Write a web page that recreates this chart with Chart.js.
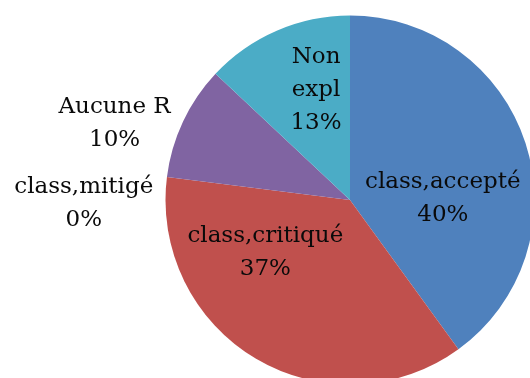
<!DOCTYPE html>
<html>
<head>
<meta charset="utf-8">
<script src="https://cdn.jsdelivr.net/npm/chart.js@4.4.1/dist/chart.umd.min.js"></script>
<style>
  html, body { margin: 0; padding: 0; background: #fff; overflow: hidden; }
  body { width: 530px; height: 378px; position: relative; }
  #wrap { position: absolute; left: 0; top: 0; width: 700px; height: 400px; }
</style>
</head>
<body>
<div id="wrap"><canvas id="camembert" width="700" height="400"></canvas></div>
<script>
// catégories et pourcentages (sens horaire depuis midi)
const categories = ['class,accepté', 'class,critiqué', 'class,mitigé', 'Aucune R', 'Non expl'];
const pourcentages = [40, 37, 0, 10, 13];
const couleurs = ['#4F81BD', '#C0504D', '#9BBB59', '#8064A2', '#4BACC6'];
// lignes de chaque étiquette
const etiquettes = [
    ['class,accepté', '40%'],
    ['class,critiqué', '37%'],
    ['class,mitigé', '0%'],
    ['Aucune R', '10%'],
    ['Non', 'expl', '13%']
];
// position des étiquettes, en rayons depuis le centre du camembert
const posEtiquettes = [
    [0.503, -0.008],
    [-0.459, 0.284],
    [-1.443, 0.019],
    [-1.276, -0.416],
    [-0.184, -0.595]
];

// dessine les étiquettes à partir de la géométrie des arcs
const etiquettesPlugin = {
    id: 'etiquettes',
    afterDatasetsDraw(chart) {
        const ctx = chart.ctx;
        const arcs = chart.getDatasetMeta(0).data;
        const hauteurLigne = 33;
        ctx.save();
        ctx.font = '23px "DejaVu Serif"';
        ctx.fillStyle = '#0a0a0a';
        ctx.textAlign = 'center';
        ctx.textBaseline = 'middle';
        arcs.forEach((arc, i) => {
            const { x, y, outerRadius } = arc.getProps(['x', 'y', 'outerRadius'], true);
            const cx = x + posEtiquettes[i][0] * outerRadius;
            const cy = y + posEtiquettes[i][1] * outerRadius;
            const lignes = etiquettes[i];
            const y0 = cy - (lignes.length - 1) * hauteurLigne / 2;
            lignes.forEach((l, k) => ctx.fillText(l, cx, y0 + k * hauteurLigne));
        });
        ctx.restore();
    }
};

new Chart(document.getElementById('camembert'), {
    type: 'pie',
    data: {
        labels: categories,
        datasets: [{
            data: pourcentages,
            backgroundColor: couleurs,
            borderColor: 'rgba(255,255,255,0.6)',
            borderWidth: [0, 0, 1, 0, 0]
        }]
    },
    options: {
        responsive: false,
        animation: false,
        layout: { padding: { left: 165, right: 165, top: 15, bottom: 15 } },
        plugins: {
            legend: { display: false },
            tooltip: { enabled: false }
        }
    },
    plugins: [etiquettesPlugin]
});
</script>
</body>
</html>
